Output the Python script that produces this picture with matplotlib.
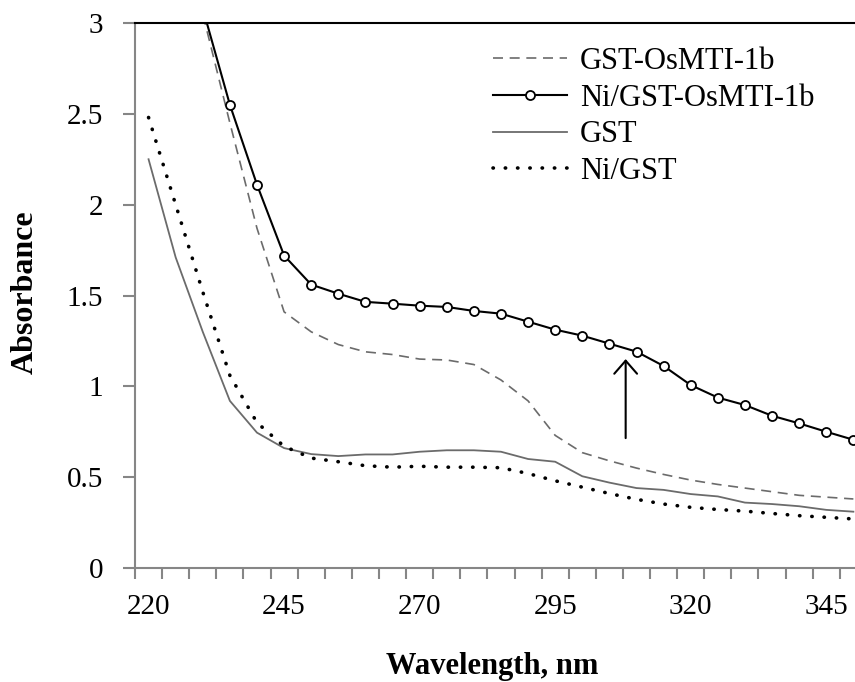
import numpy as np
import matplotlib
matplotlib.use('Agg')
import matplotlib.pyplot as plt
from matplotlib.ticker import FixedLocator

plt.rcParams['font.family'] = ['Liberation Serif', 'DejaVu Serif']

wl = list(range(220, 351, 5))

# absorbance, one value per 5 nm
gst_osmti = [4.2, 3.6, 3.05, 2.45, 1.87, 1.41, 1.30, 1.23, 1.19, 1.175,
             1.15, 1.145, 1.12, 1.035, 0.92, 0.73, 0.635, 0.59, 0.55, 0.515,
             0.484, 0.46, 0.44, 0.42, 0.40, 0.39, 0.38]
ni_gst_osmti = [4.3, 3.7, 3.08, 2.55, 2.11, 1.72, 1.56, 1.51, 1.465, 1.455,
                1.444, 1.437, 1.415, 1.40, 1.356, 1.312, 1.279, 1.235, 1.191, 1.112,
                1.007, 0.938, 0.897, 0.838, 0.796, 0.75, 0.706]
gst = [2.25, 1.71, 1.30, 0.92, 0.745, 0.66, 0.627, 0.616, 0.625, 0.625,
       0.64, 0.648, 0.648, 0.64, 0.60, 0.585, 0.505, 0.47, 0.44, 0.43,
       0.407, 0.394, 0.36, 0.352, 0.34, 0.32, 0.31]
ni_gst = [2.48, 2.0, 1.52, 1.06, 0.80, 0.67, 0.605, 0.585, 0.563, 0.555,
          0.56, 0.555, 0.555, 0.552, 0.52, 0.48, 0.445, 0.41, 0.378, 0.352,
          0.334, 0.322, 0.313, 0.30, 0.288, 0.279, 0.27]

xlabels = [220, 245, 270, 295, 320, 345]
ylabels = ['0', '0.5', '1', '1.5', '2', '2.5', '3']

fig = plt.figure(figsize=(8.55, 6.82), dpi=100)
ax = fig.add_axes([135/855, 1-568/682, 1-135/855, (568-23)/682])

gray = '#6b6b6b'
ax.plot(wl, gst_osmti, color=gray, lw=1.2, ls=(0, (6, 4)), label='GST-OsMTI-1b')
ax.plot(wl, ni_gst_osmti, color='black', lw=1.5, marker='o', ms=6.5, mfc='white',
        mec='black', mew=1.3, label='Ni/GST-OsMTI-1b')
ax.plot(wl, gst, color=gray, lw=1.3, label='GST')
ax.plot(wl, ni_gst, color='black', lw=2.6, ls=(0, (0.1, 3.3)),
        dash_capstyle='round', label='Ni/GST')

ax.annotate('', xy=(308, 1.15), xytext=(308, 0.715),
            arrowprops=dict(arrowstyle='->,head_length=0.47,head_width=0.41',
                            lw=1.5, color='black', mutation_scale=20,
                            shrinkA=0, shrinkB=0))

ax.set_xlim(217.5, 350.3)
ax.set_ylim(0, 3)

ax.xaxis.set_major_locator(FixedLocator(xlabels))
ax.set_xticklabels([str(v) for v in xlabels])
ax.xaxis.set_minor_locator(FixedLocator(np.arange(217.5, 351, 5)))
ax.tick_params(axis='x', which='major', length=0, pad=19, labelsize=21)
ax.tick_params(axis='x', which='minor', length=8, width=1.5, color='#868686',
               direction='out')

ax.set_yticks(np.arange(0, 3.01, 0.5))
ax.set_yticklabels(ylabels)
ax.tick_params(axis='y', length=9, width=1.5, color='#868686', direction='out',
               pad=14, labelsize=21)

for s in ['left', 'bottom']:
    ax.spines[s].set_color('#868686')
    ax.spines[s].set_linewidth(1.5)
ax.spines['right'].set_visible(False)
ax.spines['top'].set_color('black')
ax.spines['top'].set_linewidth(1.5)

fig.text(492/855, 1-674/682, 'Wavelength, nm', ha='center', va='baseline',
         fontsize=22, fontweight='bold')
fig.text(25/855, 1-292/682, 'Absorbance', ha='center', va='center',
         rotation=90, fontsize=23, fontweight='bold')

fig.legend(loc='upper left', bbox_to_anchor=(493/855, 1-47/682),
           bbox_transform=fig.transFigure, frameon=False, fontsize=22,
           borderpad=0, borderaxespad=0, handlelength=2.42, handletextpad=0.43,
           labelspacing=0.25)

fig.savefig('out.png', dpi=100)
